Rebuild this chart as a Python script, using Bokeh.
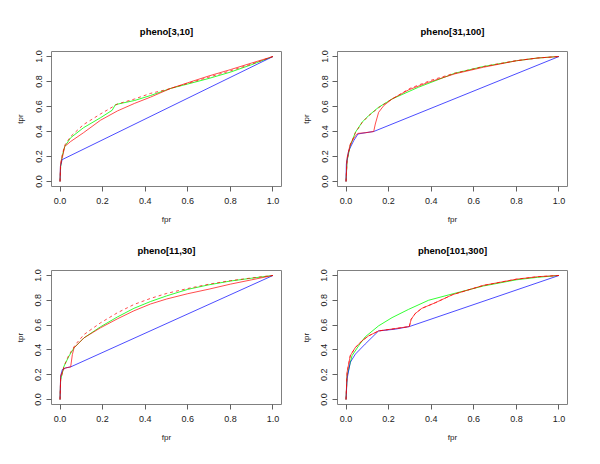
from bokeh.plotting import figure
from bokeh.layouts import column, row
from bokeh.models import FixedTicker, NumeralTickFormatter, Range1d
from bokeh.embed import file_html
from bokeh.resources import INLINE

titles = ["pheno[3,10]", "pheno[31,100]", "pheno[11,30]", "pheno[101,300]"]
tick_values = [0.0, 0.2, 0.4, 0.6, 0.8, 1.0]

# panel pheno[3,10]
a_blue_x = [0, 0.002, 0.01, 1.0]
a_blue_y = [0, 0.12, 0.175, 1.0]
a_red_x = [0, 0.002, 0.006, 0.012, 0.022, 0.05, 0.11, 0.19, 0.27, 0.35, 0.425, 0.52, 0.6, 0.7, 0.8, 0.9, 1.0]
a_red_y = [0, 0.12, 0.17, 0.2, 0.28, 0.32, 0.39, 0.49, 0.565, 0.625, 0.675, 0.745, 0.79, 0.845, 0.895, 0.948, 1.0]
a_green_x = [0, 0.003, 0.01, 0.022, 0.05, 0.11, 0.19, 0.245, 0.26, 0.3, 0.35, 0.425, 0.52, 0.6, 0.7, 0.8, 0.9, 1.0]
a_green_y = [0, 0.12, 0.2, 0.28, 0.35, 0.43, 0.51, 0.57, 0.615, 0.63, 0.648, 0.688, 0.745, 0.78, 0.825, 0.875, 0.935, 1.0]
a_dash_x = [0, 0.003, 0.01, 0.022, 0.05, 0.11, 0.19, 0.27, 0.35, 0.425, 0.5, 0.6, 0.7, 0.8, 0.9, 1.0]
a_dash_y = [0, 0.13, 0.21, 0.29, 0.36, 0.455, 0.54, 0.62, 0.66, 0.705, 0.735, 0.785, 0.835, 0.885, 0.94, 1.0]

# panel pheno[31,100]
b_blue_x = [0, 0.0016, 0.0125, 0.036, 0.056, 0.09, 0.13, 1.0]
b_blue_y = [0, 0.14, 0.246, 0.326, 0.38, 0.39, 0.40, 1.0]
b_red_x = [0, 0.005, 0.02, 0.044, 0.056, 0.09, 0.13, 0.1375, 0.153, 0.177, 0.216, 0.294, 0.3875, 0.5125, 0.645, 0.8, 0.9, 1.0]
b_red_y = [0, 0.19, 0.30, 0.366, 0.385, 0.39, 0.40, 0.46, 0.553, 0.607, 0.66, 0.733, 0.794, 0.862, 0.914, 0.966, 0.988, 1.0]
b_green_x = [0, 0.005, 0.02, 0.044, 0.075, 0.106, 0.153, 0.216, 0.34, 0.51, 0.645, 0.8, 0.9, 1.0]
b_green_y = [0, 0.166, 0.286, 0.393, 0.473, 0.527, 0.594, 0.66, 0.754, 0.866, 0.92, 0.966, 0.988, 1.0]
b_dash_x = [0, 0.005, 0.02, 0.044, 0.075, 0.106, 0.153, 0.216, 0.3, 0.4, 0.5, 0.645, 0.8, 0.9, 1.0]
b_dash_y = [0, 0.17, 0.29, 0.39, 0.47, 0.525, 0.59, 0.66, 0.745, 0.81, 0.862, 0.92, 0.967, 0.988, 1.0]

# panel pheno[11,30]
c_blue_x = [0, 0.003, 0.011, 0.027, 0.05, 1.0]
c_blue_y = [0, 0.19, 0.242, 0.255, 0.263, 1.0]
c_red_x = [0, 0.003, 0.016, 0.027, 0.05, 0.058, 0.066, 0.1125, 0.19, 0.269, 0.347, 0.425, 0.5, 0.6, 0.7, 0.8, 0.9, 1.0]
c_red_y = [0, 0.19, 0.242, 0.255, 0.263, 0.363, 0.417, 0.497, 0.578, 0.65, 0.715, 0.77, 0.81, 0.853, 0.89, 0.93, 0.965, 1.0]
c_green_x = [0, 0.003, 0.019, 0.042, 0.066, 0.1125, 0.19, 0.269, 0.347, 0.425, 0.5, 0.6, 0.7, 0.8, 0.9, 1.0]
c_green_y = [0, 0.16, 0.27, 0.35, 0.417, 0.497, 0.586, 0.665, 0.735, 0.79, 0.835, 0.888, 0.925, 0.955, 0.978, 1.0]
c_dash_x = [0, 0.003, 0.019, 0.042, 0.073, 0.1125, 0.19, 0.269, 0.347, 0.425, 0.5, 0.6, 0.7, 0.8, 0.9, 1.0]
c_dash_y = [0, 0.16, 0.27, 0.36, 0.444, 0.524, 0.618, 0.699, 0.766, 0.815, 0.855, 0.895, 0.93, 0.958, 0.98, 1.0]

# panel pheno[101,300]
d_blue_x = [0, 0.005, 0.02, 0.044, 0.09, 0.153, 0.231, 0.297, 1.0]
d_blue_y = [0, 0.166, 0.3, 0.366, 0.447, 0.553, 0.567, 0.588, 1.0]
d_red_x = [0, 0.005, 0.02, 0.044, 0.075, 0.106, 0.153, 0.231, 0.297, 0.306, 0.325, 0.356, 0.419, 0.5, 0.645, 0.8, 0.9, 1.0]
d_red_y = [0, 0.22, 0.353, 0.42, 0.473, 0.513, 0.553, 0.572, 0.588, 0.647, 0.693, 0.735, 0.78, 0.845, 0.92, 0.97, 0.99, 1.0]
d_green_x = [0, 0.005, 0.028, 0.059, 0.09, 0.153, 0.216, 0.294, 0.3875, 0.497, 0.645, 0.8, 0.9, 1.0]
d_green_y = [0, 0.19, 0.353, 0.433, 0.505, 0.594, 0.66, 0.727, 0.8, 0.85, 0.915, 0.965, 0.985, 1.0]
d_dash_x = [0, 0.005, 0.02, 0.044, 0.075, 0.106, 0.153, 0.231, 0.297, 0.306, 0.325, 0.356, 0.419, 0.5, 0.645, 0.8, 0.9, 1.0]
d_dash_y = [0, 0.22, 0.353, 0.42, 0.473, 0.513, 0.553, 0.572, 0.588, 0.647, 0.693, 0.735, 0.78, 0.845, 0.92, 0.97, 0.99, 1.0]

panels = [
    (a_blue_x, a_blue_y, a_green_x, a_green_y, a_red_x, a_red_y, a_dash_x, a_dash_y),
    (b_blue_x, b_blue_y, b_green_x, b_green_y, b_red_x, b_red_y, b_dash_x, b_dash_y),
    (c_blue_x, c_blue_y, c_green_x, c_green_y, c_red_x, c_red_y, c_dash_x, c_dash_y),
    (d_blue_x, d_blue_y, d_green_x, d_green_y, d_red_x, d_red_y, d_dash_x, d_dash_y),
]

# (width, height, border_left, border_right, border_top, border_bottom)
geom = [
    (286, 228, 51, 5, 51, 42),
    (306, 228, 51, 25, 51, 42),
    (286, 228, 51, 5, 41, 52),
    (306, 228, 51, 25, 41, 52),
]

FONT = "Liberation Sans"
figs = []
for i, (data, g) in enumerate(zip(panels, geom)):
    w, h, bl, br, bt, bb = g
    p = figure(width=w, height=h, output_backend="svg", toolbar_location=None,
               x_range=Range1d(-0.04, 1.04), y_range=Range1d(-0.04, 1.04),
               min_border_left=bl, min_border_right=br,
               min_border_top=bt, min_border_bottom=bb,
               title=titles[i])
    p.title.align = "center"
    p.title.text_font = FONT
    p.title.text_font_size = "9.5px"
    p.title.text_font_style = "bold"
    p.title.text_color = "black"
    p.title.standoff = 29
    p.grid.visible = False
    p.outline_line_color = "#808080"
    p.outline_line_width = 1
    p.background_fill_color = "white"
    p.border_fill_color = "white"
    for ax in (p.xaxis[0], p.yaxis[0]):
        ax.ticker = FixedTicker(ticks=tick_values)
        ax.formatter = NumeralTickFormatter(format="0.0")
        ax.axis_line_color = None
        ax.major_tick_line_color = "#606060"
        ax.major_tick_in = 0
        ax.major_tick_out = 5
        ax.minor_tick_line_color = None
        ax.major_label_text_font = FONT
        ax.major_label_text_font_size = "9px"
        ax.major_label_text_color = "#222222"
        ax.axis_label_text_font = FONT
        ax.axis_label_text_font_size = "8px"
        ax.axis_label_text_font_style = "normal"
        ax.axis_label_text_color = "#222222"
    p.xaxis.major_label_standoff = 6
    p.yaxis.major_label_standoff = 5
    p.xaxis.axis_label = "fpr"
    p.yaxis.axis_label = "tpr"
    p.xaxis.axis_label_standoff = 8
    p.yaxis.axis_label_standoff = 8
    p.yaxis.major_label_orientation = "vertical"

    bx, by, gx, gy, rx, ry, dx, dy = data
    p.line(gx, gy, line_color="#00ff00", line_width=1, line_alpha=0.8)
    p.line(bx, by, line_color="#0000ff", line_width=1, line_alpha=0.7)
    p.line(rx, ry, line_color="#ff0000", line_width=1, line_alpha=0.7)
    p.line(dx, dy, line_color="#ff0000", line_width=1, line_alpha=0.7, line_dash="3 3")
    figs.append(p)

layout = column(row(figs[0], figs[1]), row(figs[2], figs[3]))
open("out.html", "w").write(file_html(layout, INLINE))
